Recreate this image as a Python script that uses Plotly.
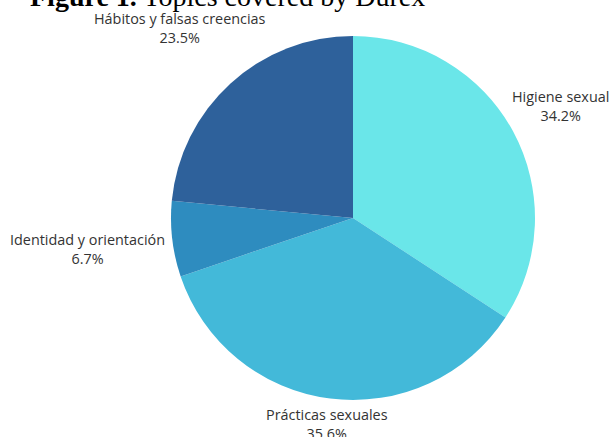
import math
import plotly.graph_objects as go

labels = ["Higiene sexual", "Prácticas sexuales", "Identidad y orientación", "Hábitos y falsas creencias"]
values = [34.2, 35.6, 6.7, 23.5]
colors = ["#6ae6e9", "#43b9d9", "#2e8cbf", "#2e619b"]

W, H = 613, 437
cx, cy, r = 353, 218, 182
FS = 14.4
CHAR_W = 6.8
HALF_H = 12
GAP = 6

fig = go.Figure(go.Pie(
    labels=labels, values=values, sort=False, direction="clockwise", rotation=0,
    marker=dict(colors=colors, line=dict(width=0)),
    textinfo="none", hoverinfo="label+percent",
    domain=dict(x=[(cx - r) / W, (cx + r) / W], y=[(H - cy - r) / H, (H - cy + r) / H]),
    showlegend=False,
))

total = sum(values)
cum = 0.0
for lab, val in zip(labels, values):
    mid = (cum + val / 2) / total * 2 * math.pi
    cum += val
    vx, vy = math.sin(mid), -math.cos(mid)  # screen coords, y down
    pct = f"{val:.1f}%"
    w = max(len(lab), len(pct)) * CHAR_W
    d = r + GAP + abs(vx) * w / 2 + abs(vy) * HALF_H
    px, py = cx + vx * d, cy + vy * d
    fig.add_annotation(
        xref="paper", yref="paper", x=px / W, y=1 - py / H,
        xanchor="center", yanchor="middle", showarrow=False,
        text=f"{lab}<br>{pct}", align="center",
        font=dict(family="Open Sans", size=FS, color="#333333"),
    )

fig.add_annotation(
    xref="paper", yref="paper", x=28 / W, y=1 + 4 / H, xanchor="left", yanchor="middle",
    text="<b>Figure 1.</b> Topics covered by Durex", showarrow=False,
    font=dict(family="Liberation Serif", size=28, color="#000000"),
)

fig.update_layout(
    width=W, height=H, margin=dict(l=0, r=0, t=0, b=0),
    paper_bgcolor="white", plot_bgcolor="white",
)
fig.write_html("out.html", config={"displayModeBar": False},
               post_script="document.body.style.margin='0';")
